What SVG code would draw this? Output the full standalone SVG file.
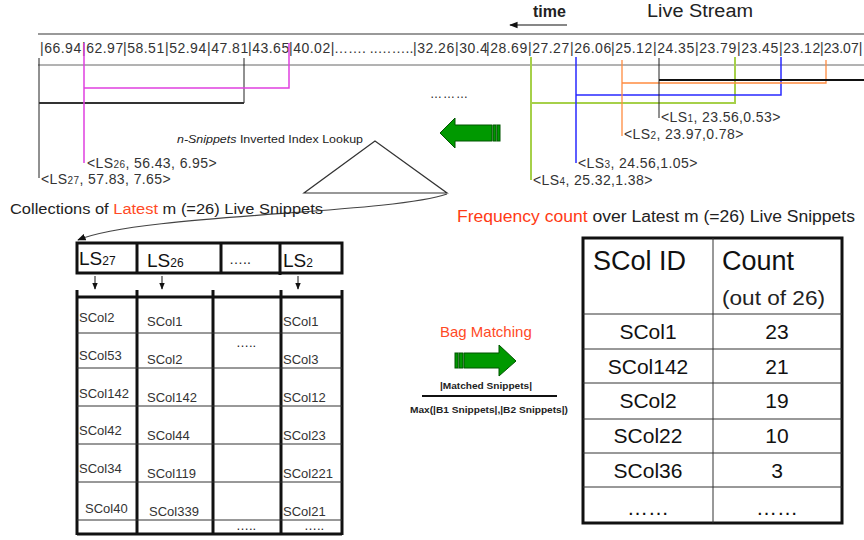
<svg xmlns="http://www.w3.org/2000/svg" width="864" height="540" viewBox="0 0 864 540">
  <defs>
    <style>
      text { font-family: "Liberation Sans", Arial, sans-serif; fill: #222; }
      .stream { font-size: 14px; letter-spacing: 0.5px; fill: #333; }
      .lbl { font-size: 14px; letter-spacing: 0.4px; fill: #333; }
      .sub { font-size: 10px; }
      .accent { fill: #ff4a26; }
      .cell { font-size: 13px; fill: #333; }
      .hdr { font-size: 19px; fill: #111; }
      .hsub { font-size: 12px; }
      .big { font-size: 27px; fill: #111; }
      .row { font-size: 21px; fill: #111; text-anchor: middle; }
      .thin { stroke: #333; stroke-width: 1; fill: none; }
      .thick { stroke: #111; stroke-width: 3; fill: none; }
      .garrow { fill: #009900; stroke: #005500; stroke-width: 1; }
    </style>
    <marker id="ah" viewBox="0 0 10 10" refX="9" refY="5" markerWidth="7" markerHeight="7" orient="auto">
      <path d="M0,1 L10,5 L0,9 z" fill="#111"/>
    </marker>
  </defs>

  <rect width="864" height="540" fill="#ffffff"/>

  <!-- live stream header -->
  <g id="stream-title">
    <text x="533" y="17" font-size="16" font-weight="bold" fill="#111">time</text>
    <line x1="567" y1="25" x2="510" y2="25" stroke="#111" stroke-width="1.2" marker-end="url(#ah)"/>
    <text x="647" y="17" font-size="18" textLength="106" lengthAdjust="spacingAndGlyphs" fill="#111">Live Stream</text>
  </g>

  <!-- stream of timestamps -->
  <g id="stream">
    <line x1="38" y1="34" x2="864" y2="34" stroke="#999" stroke-width="2"/>
    <line x1="38" y1="65" x2="864" y2="65" stroke="#666" stroke-width="1"/>
    <text class="stream" y="53">
      <tspan x="40">|66.94</tspan><tspan x="82">|62.97</tspan><tspan x="123">|58.51</tspan><tspan x="165">|52.94</tspan><tspan x="207">|47.81</tspan><tspan x="248">|43.65</tspan><tspan x="289">|40.02|</tspan><tspan x="334" letter-spacing="0">……. ..……..</tspan><tspan x="413">|32.26</tspan><tspan x="455">|30.4</tspan><tspan x="486">|28.69</tspan><tspan x="528">|27.27</tspan><tspan x="570">|26.06</tspan><tspan x="611">|25.12</tspan><tspan x="653">|24.35</tspan><tspan x="695">|23.79</tspan><tspan x="737">|23.45</tspan><tspan x="779">|23.12</tspan><tspan x="820" letter-spacing="0">|23.07|</tspan>
    </text>
    <text x="430" y="98" font-size="12" fill="#777" letter-spacing="1">………</text>
  </g>

  <!-- snippet span brackets -->
  <g id="connectors">
    <path d="M39,58 V178 M39,103 H244 V58" stroke="#222" stroke-width="1" fill="none"/>
    <line x1="39" y1="103" x2="244" y2="103" stroke="#333" stroke-width="2"/>
    <path d="M84,43 V163 M84,88 H289 V43" stroke="#e040e0" stroke-width="1.5" fill="none"/>
    <path d="M531,57 V180 M531,103 H735 V57" stroke="#a6d04a" stroke-width="2" fill="none"/>
    <path d="M576,57 V163 M576,95 H781 V57" stroke="#2a2aff" stroke-width="1.5" fill="none"/>
    <path d="M622,60 V136 M622,83 H826 V60" stroke="#ff8c40" stroke-width="1.3" fill="none"/>
    <path d="M659,58 V118" stroke="#222" stroke-width="1" fill="none"/>
    <line x1="659" y1="80" x2="864" y2="80" stroke="#111" stroke-width="2"/>
    <!-- index lookup to collection -->
    <path d="M447,194 C390,214 140,214 78,240" stroke="#444" stroke-width="1.2" fill="none" marker-end="url(#ah)"/>
    <!-- header cell to column arrows -->
    <line x1="95" y1="276" x2="95" y2="289" stroke="#111" stroke-width="1" marker-end="url(#ah)"/>
    <line x1="162" y1="276" x2="162" y2="289" stroke="#111" stroke-width="1" marker-end="url(#ah)"/>
    <line x1="298" y1="276" x2="298" y2="289" stroke="#111" stroke-width="1" marker-end="url(#ah)"/>
  </g>

  <!-- snippet labels -->
  <g id="labels">
    <text class="lbl" x="87" y="168">&lt;LS<tspan class="sub">26</tspan>, 56.43, 6.95&gt;</text>
    <text class="lbl" x="41" y="184">&lt;LS<tspan class="sub">27</tspan>, 57.83, 7.65&gt;</text>
    <text class="lbl" x="661" y="122">&lt;LS<tspan class="sub">1</tspan>, 23.56,0.53&gt;</text>
    <text class="lbl" x="624" y="139">&lt;LS<tspan class="sub">2</tspan>, 23.97,0.78&gt;</text>
    <text class="lbl" x="578" y="168">&lt;LS<tspan class="sub">3</tspan>, 24.56,1.05&gt;</text>
    <text class="lbl" x="533" y="185">&lt;LS<tspan class="sub">4</tspan>, 25.32,1.38&gt;</text>
  </g>

  <!-- inverted index lookup -->
  <g id="index-lookup">
    <text x="177" y="143" font-size="11.5" textLength="186" lengthAdjust="spacingAndGlyphs" fill="#222"><tspan font-style="italic">n-Snippets</tspan> Inverted Index Lookup</text>
    <polygon points="375,141 304,193 447,193" fill="#ffffff" stroke="#333" stroke-width="1.2"/>
  </g>

  <!-- green arrow pointing left -->
  <g id="arrow-left">
    <path class="garrow" d="M440,133 L455,118 L455,125 L492,125 L492,141 L455,141 L455,148 Z"/>
    <rect class="garrow" x="493" y="125" width="3" height="16"/>
    <rect class="garrow" x="497" y="125" width="3" height="16"/>
  </g>

  <!-- collection of latest snippets -->
  <g id="collections-title">
    <text x="10" y="214" font-size="14" textLength="313" lengthAdjust="spacingAndGlyphs" fill="#444">Collections of <tspan class="accent">Latest</tspan> m (=26) Live Snippets</text>
  </g>

  <g id="snippet-table">
    <rect class="thick" x="77" y="243" width="265" height="30"/>
    <line class="thick" x1="137" y1="243" x2="137" y2="273"/>
    <line class="thick" x1="221" y1="243" x2="221" y2="273"/>
    <line class="thick" x1="280" y1="243" x2="280" y2="275"/>
    <text class="hdr" x="79" y="265">LS<tspan class="hsub">27</tspan></text>
    <text class="hdr" x="147" y="267">LS<tspan class="hsub">26</tspan></text>
    <text x="229" y="264" font-size="14" fill="#222">…..</text>
    <text class="hdr" x="283" y="267">LS<tspan class="hsub">2</tspan></text>

    <g stroke="#111" stroke-width="3">
      <line x1="77" y1="290" x2="77" y2="535"/>
      <line x1="137" y1="290" x2="137" y2="535"/>
      <line x1="213" y1="290" x2="213" y2="535"/>
      <line x1="281" y1="290" x2="281" y2="535"/>
      <line x1="342" y1="290" x2="342" y2="535"/>
      <line x1="77" y1="297" x2="342" y2="297"/>
      <line x1="77" y1="534" x2="342" y2="534"/>
    </g>
    <g stroke="#333" stroke-width="1">
      <line x1="77" y1="333" x2="342" y2="333"/>
      <line x1="77" y1="368" x2="342" y2="368"/>
      <line x1="77" y1="406" x2="342" y2="406"/>
      <line x1="77" y1="444" x2="342" y2="444"/>
      <line x1="77" y1="482" x2="342" y2="482"/>
      <line x1="77" y1="520" x2="342" y2="520"/>
    </g>

    <text class="cell" x="79" y="322">SCol2</text>
    <text class="cell" x="79" y="360">SCol53</text>
    <text class="cell" x="79" y="398">SCol142</text>
    <text class="cell" x="79" y="435">SCol42</text>
    <text class="cell" x="79" y="473">SCol34</text>
    <text class="cell" x="85" y="513">SCol40</text>

    <text class="cell" x="147" y="326">SCol1</text>
    <text class="cell" x="147" y="364">SCol2</text>
    <text class="cell" x="147" y="402">SCol142</text>
    <text class="cell" x="147" y="440">SCol44</text>
    <text class="cell" x="147" y="478">SCol119</text>
    <text class="cell" x="149" y="516">SCol339</text>

    <text class="cell" x="283" y="326">SCol1</text>
    <text class="cell" x="283" y="364">SCol3</text>
    <text class="cell" x="283" y="402">SCol12</text>
    <text class="cell" x="283" y="440">SCol23</text>
    <text class="cell" x="283" y="478">SCol221</text>
    <text class="cell" x="283" y="516">SCol21</text>

    <text x="236" y="347" font-size="13" fill="#222">…..</text>
    <text x="236" y="530" font-size="13" fill="#222">…..</text>
    <text x="304" y="530" font-size="13" fill="#222">…..</text>
  </g>

  <!-- bag matching -->
  <g id="bag-matching">
    <text x="440" y="337" font-size="15" class="accent">Bag Matching</text>
    <rect class="garrow" x="455" y="353" width="3" height="15"/>
    <rect class="garrow" x="459" y="353" width="4" height="15"/>
    <path class="garrow" d="M464,353 L499,353 L499,345 L516,361 L499,376 L499,368 L464,368 Z"/>
    <text x="440" y="389" font-size="9.5" font-weight="bold" textLength="92" lengthAdjust="spacingAndGlyphs" fill="#111">|Matched Snippets|</text>
    <line x1="422" y1="396" x2="557" y2="396" stroke="#111" stroke-width="2"/>
    <text x="410" y="413" font-size="9.5" font-weight="bold" textLength="158" lengthAdjust="spacingAndGlyphs" fill="#111">Max(|B1 Snippets|,|B2 Snippets|)</text>
  </g>

  <!-- frequency count table -->
  <g id="frequency-title">
    <text x="457" y="222" font-size="16" textLength="398" lengthAdjust="spacingAndGlyphs" fill="#111"><tspan fill="#ff3a14">Frequency count</tspan> over Latest m (=26) Live Snippets</text>
  </g>

  <g id="frequency-table">
    <rect x="583" y="238" width="259" height="285" fill="#ffffff" stroke="#111" stroke-width="3"/>
    <line class="thin" x1="713" y1="238" x2="713" y2="523"/>
    <g stroke="#333" stroke-width="1">
      <line x1="583" y1="314" x2="842" y2="314"/>
      <line x1="583" y1="349" x2="842" y2="349"/>
      <line x1="583" y1="383" x2="842" y2="383"/>
      <line x1="583" y1="419" x2="842" y2="419"/>
      <line x1="583" y1="453" x2="842" y2="453"/>
      <line x1="583" y1="487" x2="842" y2="487"/>
    </g>
    <text class="big" x="593" y="270">SCol ID</text>
    <text class="big" x="722" y="270">Count</text>
    <text x="722" y="305" font-size="21" textLength="103" lengthAdjust="spacingAndGlyphs" fill="#111">(out of 26)</text>

    <text class="row" x="648" y="339">SCol1</text>
    <text class="row" x="777" y="339">23</text>
    <text class="row" x="648" y="374">SCol142</text>
    <text class="row" x="777" y="374">21</text>
    <text class="row" x="648" y="408">SCol2</text>
    <text class="row" x="777" y="408">19</text>
    <text class="row" x="648" y="443">SCol22</text>
    <text class="row" x="777" y="443">10</text>
    <text class="row" x="648" y="478">SCol36</text>
    <text class="row" x="777" y="478">3</text>
    <text class="row" x="648" y="515" font-size="17">……</text>
    <text class="row" x="777" y="515" font-size="17">……</text>
  </g>
</svg>
